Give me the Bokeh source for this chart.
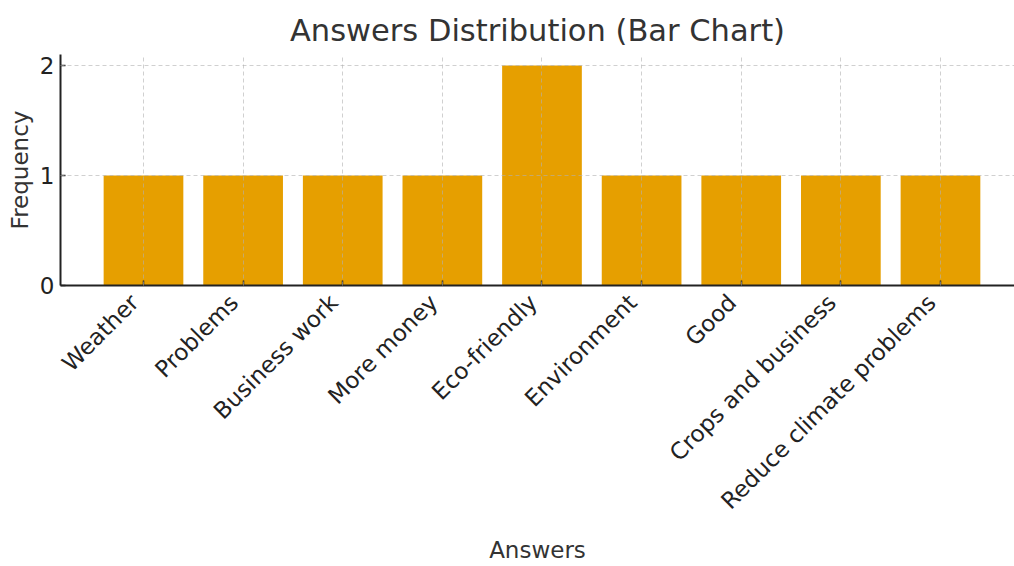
import math
from bokeh.plotting import figure
from bokeh.models import Range1d, FixedTicker, ColumnDataSource, LinearAxis
from bokeh.embed import file_html
from bokeh.resources import INLINE

categories = ["Weather", "Problems", "Business work", "More money", "Eco-friendly",
              "Environment", "Good", "Crops and business", "Reduce climate problems"]
frequency = [1, 1, 1, 1, 2, 1, 1, 1, 1]
y_ticks = [0, 1, 2]

xs = list(range(len(categories)))
src = ColumnDataSource(dict(x=xs, top=frequency))

FONT = "DejaVu Sans"
X0, X1 = -0.833, 8.743
SHIFT = 0.09  # moves rotated tick labels so their ends sit at the ticks

p = figure(width=1014, height=566, output_backend="svg", toolbar_location=None,
           x_range=Range1d(X0, X1), y_range=Range1d(0, 2.1),
           title="Answers Distribution (Bar Chart)",
           min_border_left=60, min_border_right=0, min_border_top=54, min_border_bottom=280)

p.vbar(x="x", top="top", width=0.8, bottom=0, source=src,
       fill_color="#E69F00", line_color=None)

p.outline_line_color = None
p.background_fill_color = "white"
p.border_fill_color = "white"

p.title.text_font = FONT
p.title.text_font_size = "30.5px"
p.title.text_font_style = "normal"
p.title.text_color = "#333333"
p.title.align = "center"
p.title.offset = 8
p.title.standoff = 13

# primary x axis: line + inward ticks only
xa = p.xaxis[0]
xa.ticker = FixedTicker(ticks=xs)
xa.major_label_overrides = {i: "" for i in xs}
xa.major_label_text_font_size = "0px"
xa.major_label_standoff = 0
xa.minor_tick_line_color = None
xa.axis_line_color = "#222222"
xa.axis_line_width = 2
xa.major_tick_line_color = "#222222"
xa.major_tick_line_width = 1.5
xa.major_tick_in = 5
xa.major_tick_out = 0

ya = p.yaxis[0]
ya.ticker = FixedTicker(ticks=y_ticks)
ya.minor_tick_line_color = None
ya.axis_line_color = "#222222"
ya.axis_line_width = 2
ya.major_tick_line_color = "#222222"
ya.major_tick_line_width = 1.5
ya.major_tick_in = 5
ya.major_tick_out = 0
ya.major_label_text_font = FONT
ya.major_label_text_font_size = "23px"
ya.major_label_text_color = "#222222"
ya.major_label_standoff = 6
ya.axis_label = "Frequency"
ya.axis_label_text_font = FONT
ya.axis_label_text_font_size = "23px"
ya.axis_label_text_font_style = "normal"
ya.axis_label_text_color = "#333333"
ya.axis_label_standoff = 4

# label axis (category names, rotated 45 degrees)
p.extra_x_ranges = {"lbl": Range1d(X0 + SHIFT, X1 + SHIFT)}
la = LinearAxis(x_range_name="lbl", ticker=FixedTicker(ticks=xs),
                major_label_overrides={i: c for i, c in enumerate(categories)},
                major_label_orientation=math.pi / 4,
                axis_line_color=None, major_tick_line_color=None,
                minor_tick_line_color=None,
                major_tick_in=0, major_tick_out=0,
                major_label_standoff=13,
                major_label_text_font=FONT, major_label_text_font_size="23px",
                major_label_text_color="#222222",
                axis_label="Answers", axis_label_text_font=FONT,
                axis_label_text_font_size="23px", axis_label_text_font_style="normal",
                axis_label_text_color="#333333", axis_label_standoff=11)
p.add_layout(la, "below")

for g in (p.xgrid[0], p.ygrid[0]):
    g.grid_line_color = "#b0b0b0"
    g.grid_line_alpha = 0.6
    g.grid_line_dash = "4 3"
    g.grid_line_width = 1
    g.level = "overlay"
p.xgrid[0].ticker = FixedTicker(ticks=xs)
p.ygrid[0].ticker = FixedTicker(ticks=y_ticks)

open("out.html", "w").write(file_html(p, INLINE))
